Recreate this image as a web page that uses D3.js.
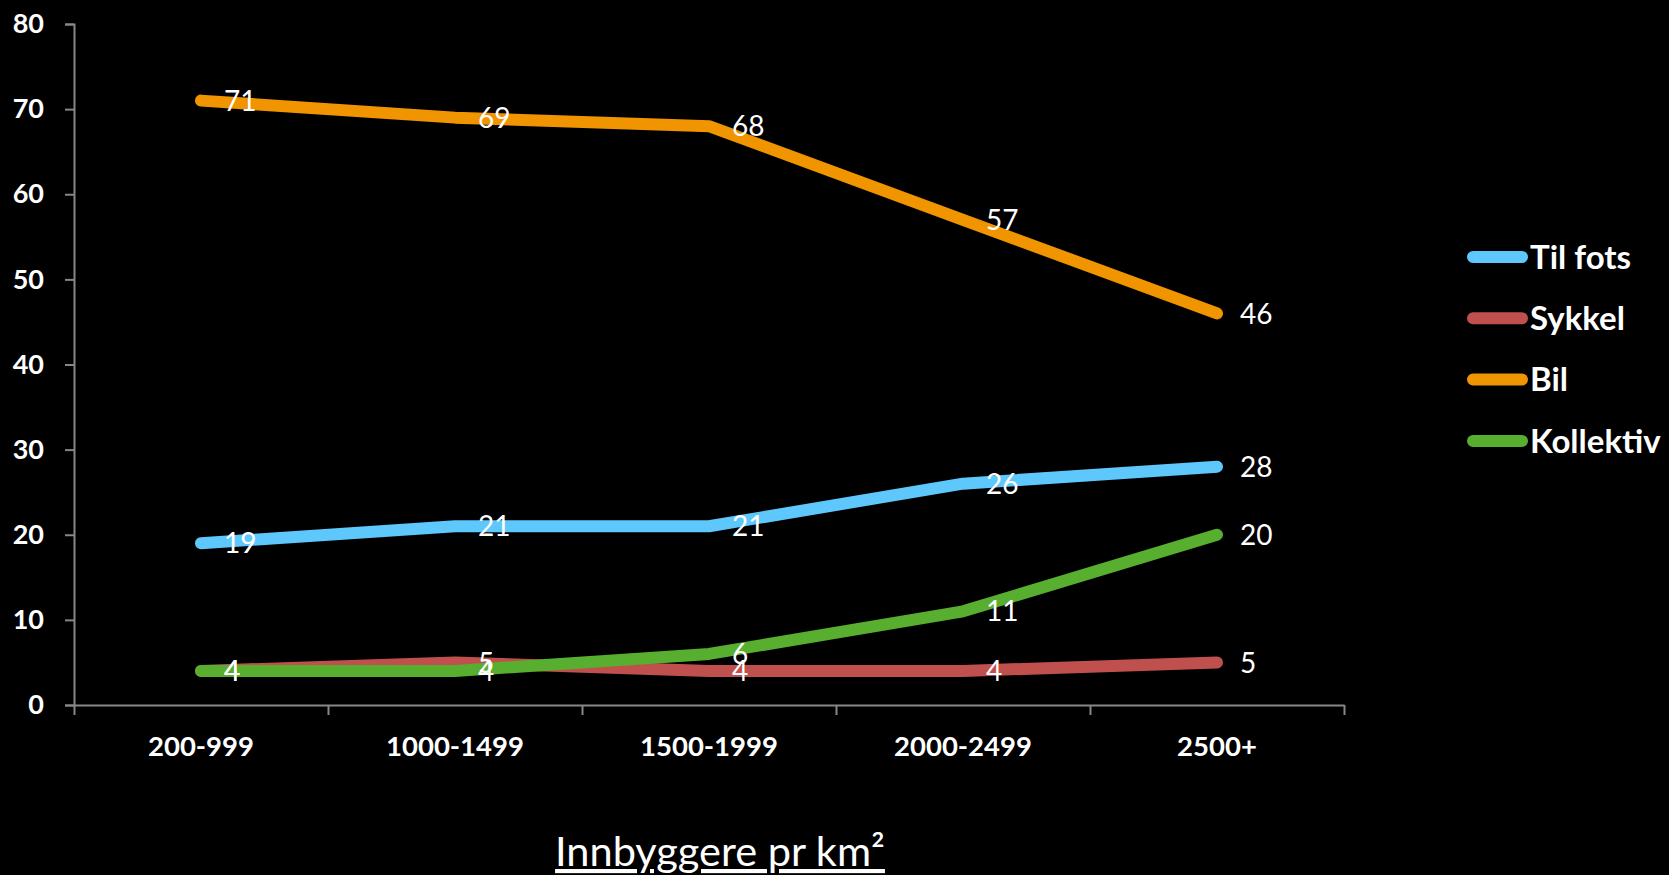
<!DOCTYPE html>
<html>
<head>
<meta charset="utf-8">
<script src="https://cdn.jsdelivr.net/npm/d3@7"></script>
<style>
  html, body { margin: 0; padding: 0; background: #000; }
  svg { display: block; }
  .axis path, .axis line { stroke: #878787; stroke-width: 2; }
</style>
</head>
<body>
<div id="chart"></div>
<script>
var width = 1669;
var height = 875;

// data
var categories = ["200-999", "1000-1499", "1500-1999", "2000-2499", "2500+"];
var seriesNames = ["Til fots", "Sykkel", "Bil", "Kollektiv"];
var tilFots = [19, 21, 21, 26, 28];
var sykkel = [4, 5, 4, 4, 5];
var bil = [71, 69, 68, 57, 46];
var kollektiv = [4, 4, 6, 11, 20];
var yTicks = [0, 10, 20, 30, 40, 50, 60, 70, 80];
var colors = ["#5ec8fc", "#c0504d", "#f09400", "#58ae2e"];

var series = [tilFots, sykkel, bil, kollektiv].map(function(v, i) {
    return { name: seriesNames[i], values: v, color: colors[i] };
});

////////////////////////////////////////////////////////////////////////////////

var plot = { left: 74, right: 1344, top: 24, bottom: 705 };

var svg = d3.select("#chart").append("svg")
    .attr("width", width)
    .attr("height", height);

var x = d3.scaleBand()
    .domain(categories)
    .range([plot.left, plot.right])
    .padding(0);

var xEdge = d3.scaleLinear()
    .domain([0, categories.length])
    .range([plot.left, plot.right]);

var y = d3.scaleLinear()
    .domain([0, 80])
    .range([plot.bottom, plot.top]);

function cx(i) { return x(categories[i]) + x.bandwidth() / 2; }

// y axis
var yAxis = svg.append("g")
    .attr("class", "axis")
    .attr("transform", "translate(" + plot.left + ",0)")
    .call(d3.axisLeft(y).tickValues(yTicks).tickSize(9).tickPadding(21).tickSizeOuter(9));

yAxis.selectAll("text")
    .attr("fill", "#fff")
    .style("font-family", "Lato, sans-serif")
    .style("font-weight", "bold")
    .style("font-size", "27px");

// x axis (ticks between categories)
var xAxis = svg.append("g")
    .attr("class", "axis")
    .attr("transform", "translate(0," + plot.bottom + ")")
    .call(d3.axisBottom(xEdge).ticks(categories.length).tickSize(10).tickSizeOuter(0).tickFormat(""));

svg.append("g").selectAll("text")
    .data(categories)
    .enter().append("text")
    .attr("x", function(d) { return x(d) + x.bandwidth() / 2; })
    .attr("y", 756)
    .attr("text-anchor", "middle")
    .attr("fill", "#fff")
    .style("font-family", "Lato, sans-serif")
    .style("font-weight", "bold")
    .style("font-size", "27.5px")
    .text(function(d) { return d; });

// lines
var line = d3.line()
    .x(function(d, i) { return cx(i); })
    .y(function(d) { return y(d); });

svg.append("g").selectAll("path")
    .data(series)
    .enter().append("path")
    .attr("d", function(d) { return line(d.values); })
    .attr("fill", "none")
    .attr("stroke", function(d) { return d.color; })
    .attr("stroke-width", 12)
    .attr("stroke-linecap", "round")
    .attr("stroke-linejoin", "round");

// data labels
var labels = svg.append("g");
series.forEach(function(s) {
    labels.selectAll(null)
        .data(s.values)
        .enter().append("text")
        .attr("x", function(d, i) { return cx(i) + 23; })
        .attr("y", function(d) { return y(d); })
        .attr("dy", "0.36em")
        .attr("fill", "#fff")
        .style("font-family", "Lato, sans-serif")
        .style("font-size", "28px")
        .text(function(d) { return d; });
});

// legend
var legend = svg.append("g")
    .attr("transform", "translate(1473,257)");

var item = legend.selectAll("g")
    .data(series)
    .enter().append("g")
    .attr("transform", function(d, i) { return "translate(0," + (i * 61.3) + ")"; });

item.append("line")
    .attr("x1", 0)
    .attr("x2", 49)
    .attr("stroke", function(d) { return d.color; })
    .attr("stroke-width", 12)
    .attr("stroke-linecap", "round");

item.append("text")
    .attr("x", 57)
    .attr("dy", "0.36em")
    .attr("fill", "#fff")
    .style("font-family", "Lato, sans-serif")
    .style("font-weight", "bold")
    .style("font-size", "33px")
    .text(function(d) { return d.name; });

// axis title
svg.append("text")
    .attr("x", 720)
    .attr("y", 866)
    .attr("text-anchor", "middle")
    .attr("fill", "#fff")
    .attr("text-decoration", "underline")
    .style("font-family", "Lato, sans-serif")
    .style("font-size", "41.5px")
    .text("Innbyggere pr km²");
</script>
</body>
</html>
